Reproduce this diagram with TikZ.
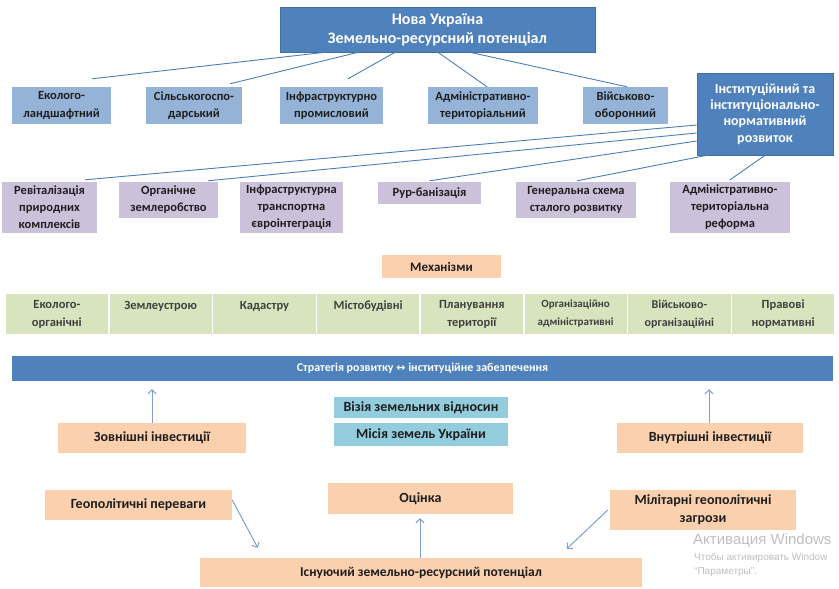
\documentclass[tikz,border=0pt]{standalone}
\usepackage{fontspec}
\setmainfont{Carlito}
\newfontfamily\symf{DejaVu Sans}
\newfontfamily\wmf{Liberation Sans}
\usetikzlibrary{arrows.meta,calc}
\definecolor{dblue}{HTML}{4F81BD}
\definecolor{lblue}{HTML}{95B3D7}
\definecolor{lav}{HTML}{CCC1DA}
\definecolor{peach}{HTML}{FAD0AE}
\definecolor{aqua}{HTML}{93CDDD}
\definecolor{lgreen}{HTML}{D7E4BD}
\definecolor{lineblue}{HTML}{4A7EBB}
\definecolor{arrblue}{HTML}{7F9FCF}
\definecolor{txt}{HTML}{1E1E1E}
\definecolor{wmgray}{HTML}{BEBEBE}
\begin{document}
\begin{tikzpicture}[x=1pt,y=-1pt,
  box/.style={inner sep=1pt, align=center, text=txt, font=\bfseries\fontsize{12.5}{17.5}\selectfont},
  topbox/.style={box, fill=dblue, draw=dblue!85!black, line width=0.6pt, text=white, font=\bfseries\fontsize{16}{19}\selectfont},
  bbox/.style={box, fill=lblue},
  instbox/.style={box, fill=dblue, draw=dblue!85!black, line width=0.6pt, text=white, font=\bfseries\fontsize{14}{16.2}\selectfont},
  lbox/.style={box, fill=lav, font=\bfseries\fontsize{12.5}{17}\selectfont},
  pbox/.style={box, fill=peach, font=\bfseries\fontsize{14}{18}\selectfont},
  abox/.style={box, fill=aqua, font=\bfseries\fontsize{14}{16}\selectfont},
  cell/.style={box, fill=lgreen, draw=white, line width=1.5pt, minimum width=103.75pt, minimum height=42pt, font=\bfseries\fontsize{12.5}{18}\selectfont, text=txt!85},
  sbar/.style={box, fill=dblue, text=white, font=\bfseries\fontsize{12}{14}\selectfont},
  ln/.style={draw=lineblue, line width=0.9pt},
  arr/.style={draw=arrblue, line width=1pt, -{Straight Barb[length=4pt,width=8pt]}},
  wm/.style={text=wmgray, anchor=west, inner sep=0pt}
]
\useasboundingbox (0,0) rectangle (839,589);

% top
\node[topbox, minimum width=315pt, minimum height=45pt] (top) at (437.5,29.5) {Нова Україна\\Земельно-ресурсний потенціал};

% row 2
\node[bbox, minimum width=99pt, minimum height=37pt] (b1) at (61.5,105.5) {Еколого-\\ландшафтний};
\node[bbox, minimum width=96pt, minimum height=37pt] (b2) at (194,105.5) {Сільськогоспо-\\дарський};
\node[bbox, minimum width=103pt, minimum height=37pt] (b3) at (331.5,105.5) {Інфраструктурно\\промисловий};
\node[bbox, minimum width=110pt, minimum height=37pt] (b4) at (483,105.5) {Адміністративно-\\територіальний};
\node[bbox, minimum width=85pt, minimum height=37pt] (b5) at (625.5,105.5) {Військово-\\оборонний};
\node[instbox, minimum width=136pt, minimum height=82pt] (inst) at (765,114) {Інституційний та\\інституціонально-\\нормативний\\розвиток};

% row 3
\node[lbox, minimum width=95pt, minimum height=51pt] (r1) at (49.5,207.5) {Ревіталізація\\природних\\комплексів};
\node[lbox, minimum width=99pt, minimum height=36pt] (r2) at (168.5,200) {Органічне\\землеробство};
\node[lbox, minimum width=103pt, minimum height=51pt] (r3) at (291.5,207.5) {Інфраструктурна\\транспортна\\євроінтеграція};
\node[lbox, minimum width=103pt, minimum height=22pt] (r4) at (429.5,193) {Рур-банізація};
\node[lbox, minimum width=120pt, minimum height=36pt] (r5) at (576,200) {Генеральна схема\\сталого розвитку};
\node[lbox, minimum width=120pt, minimum height=51pt] (r6) at (730,207.5) {Адміністративно-\\територіальна\\реформа};

% connectors top -> row 2
\draw[ln] ([xshift=-112.5pt]top.south) -- ([xshift=30.5pt,yshift=8pt]b1.north);
\draw[ln] ([xshift=-79.5pt]top.south) -- ([xshift=36pt,yshift=3pt]b2.north);
\draw[ln] ([xshift=-42.5pt]top.south) -- ([xshift=16.5pt,yshift=8pt]b3.north);
\draw[ln] ([xshift=0.5pt]top.south) -- ([xshift=4pt]b4.north);
\draw[ln] ([xshift=32.5pt]top.south) -- ([xshift=1.5pt]b5.north);

% connectors inst -> row 3
\draw[ln] ([yshift=-11pt]inst.west) -- ([xshift=35.5pt,yshift=2pt]r1.north);
\draw[ln] ([yshift=-19pt]inst.west) -- ([xshift=39.5pt,yshift=1pt]r2.north);
\draw[ln] ([yshift=-27pt]inst.west) -- ([yshift=1pt]r4.north);
\draw[ln] ([xshift=-58pt]inst.south) -- ([xshift=1pt,yshift=1pt]r5.north);
\draw[ln] ([xshift=0pt]inst.south) -- ([yshift=2pt]r6.north);

% mechanisms
\node[pbox, minimum width=119pt, minimum height=23pt, font=\bfseries\fontsize{13}{15}\selectfont] (mech) at (441.5,266.5) {Механізми};
\node[cell] (m1) at (56.875,314) {Еколого-\\органічні};
\node[cell] (m2) at (160.625,314) {Землеустрою\\~};
\node[cell] (m3) at (264.375,314) {Кадастру\\~};
\node[cell] (m4) at (368.125,314) {Містобудівні\\~};
\node[cell] (m5) at (471.875,314) {Планування\\території};
\node[cell, font=\bfseries\fontsize{11}{18}\selectfont] (m6) at (575.625,314) {Організаційно\\адміністративні};
\node[cell, font=\bfseries\fontsize{12}{18}\selectfont] (m7) at (679.375,314) {Військово-\\організаційні};
\node[cell] (m8) at (783.125,314) {Правові\\нормативні};

% strategy bar
\node[sbar, minimum width=821pt, minimum height=25pt] (bar) at (422.5,368.5) {Стратегія розвитку {\symf\fontsize{11}{14}\selectfont ↔} інституційне забезпечення};

% bottom
\node[pbox, minimum width=188pt, minimum height=30pt] (zovn) at (152,438) {Зовнішні інвестиції};
\node[pbox, minimum width=186pt, minimum height=30pt] (vnut) at (710,438) {Внутрішні інвестиції};
\node[abox, minimum width=174pt, minimum height=21pt] (viz) at (421,407.5) {Візія земельних відносин};
\node[abox, minimum width=174pt, minimum height=23pt] (mis) at (421,434.5) {Місія земель України};
\node[pbox, minimum width=187pt, minimum height=30pt] (geo) at (138.5,505) {Геополітичні переваги};
\node[pbox, minimum width=185pt, minimum height=31pt] (ocin) at (420.5,498.5) {Оцінка};
\node[pbox, minimum width=186pt, minimum height=40pt] (mil) at (703,510) {Мілітарні геополітичні\\загрози};
\node[pbox, minimum width=442pt, minimum height=29pt, font=\bfseries\fontsize{13.5}{16}\selectfont] (ex) at (421,572.5) {Існуючий земельно-ресурсний потенціал};

% arrows
\draw[arr, shorten >=8pt] (zovn.north) -- (zovn.north |- bar.south);
\draw[arr, shorten >=8pt] ([xshift=-1pt]vnut.north) -- ([xshift=-1pt]vnut.north |- bar.south);
\draw[arr] ([yshift=5pt]geo.east) -- ([xshift=58pt,yshift=10pt]ex.north west);
\draw[arr, shorten >=4pt] ([xshift=-1pt]ex.north) -- ([xshift=-0.5pt]ocin.south);
\draw[arr] ([xshift=-2pt]mil.west) -- ([xshift=367pt,yshift=9pt]ex.north west);

% watermark
\node[wm, font=\wmf\fontsize{15}{15}\selectfont] (wm1) at (693,541) {Активация Windows};
\node[wm, font=\wmf\fontsize{10}{10}\selectfont] (wm2) at (694,558) {Чтобы активировать Window};
\node[wm, font=\wmf\fontsize{10}{10}\selectfont] (wm3) at (694,572) {“Параметры”.};
\end{tikzpicture}
\end{document}
